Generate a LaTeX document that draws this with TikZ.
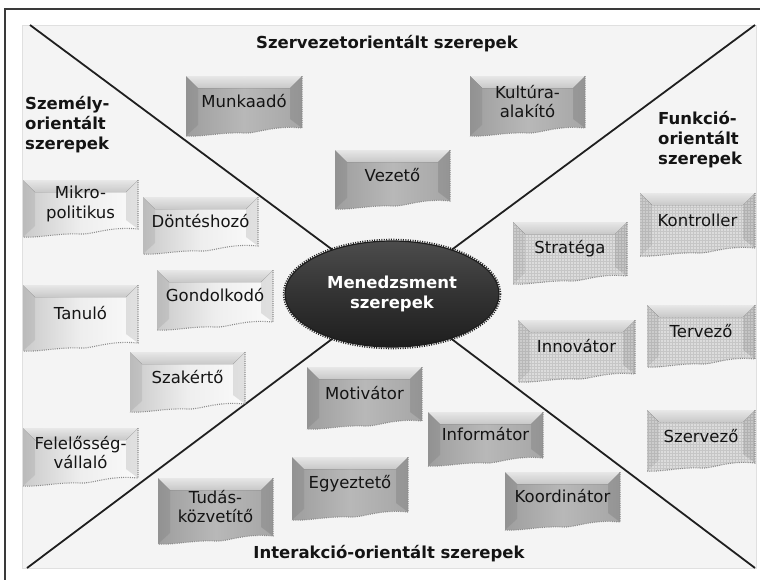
\documentclass[tikz,border=0pt]{standalone}
\usepackage{fontspec}
\setmainfont{DejaVu Sans}
\usetikzlibrary{shapes.geometric,patterns}

\definecolor{framec}{HTML}{3A3A3A}
\definecolor{panelc}{HTML}{F4F4F4}
\definecolor{paneledge}{HTML}{E0E0E0}
\definecolor{textc}{HTML}{141414}
\definecolor{gboxL}{HTML}{9E9E9E}
\definecolor{gboxM}{HTML}{B8B8B8}
\definecolor{gboxR}{HTML}{A6A6A6}
\definecolor{lboxL}{HTML}{CACACA}
\definecolor{lboxM}{HTML}{EEEEEE}
\definecolor{lboxR}{HTML}{FAFAFA}
\definecolor{fboxF}{HTML}{DCDCDC}
\definecolor{fboxG}{HTML}{C6C6C6}
\definecolor{bevelB}{HTML}{DCDCDC}
\definecolor{ellT}{HTML}{4C4C4C}
\definecolor{ellM}{HTML}{333333}
\definecolor{ellB}{HTML}{1E1E1E}

\tikzset{
  gbox/.style={left color=gboxL, right color=gboxR, middle color=gboxM},
  lbox/.style={left color=lboxL, right color=lboxR, middle color=lboxM},
  fbox/.style={fill=fboxF, postaction={pattern=grid, pattern color=fboxG}},
  bevel/.style={top color=white, bottom color=bevelB, opacity=0.9},
  tornedge/.style={draw=black!45, line width=1.1pt, dash pattern=on 1pt off 1.2pt},
  roletext/.style={font=\fontsize{16.5}{19.5}\selectfont, text=textc, align=center, inner sep=0pt},
  heading/.style={font=\bfseries\fontsize{16.5}{20}\selectfont, text=textc, inner sep=0pt},
  divider/.style={line width=1.8pt, draw=black!88},
}

% role box: #1 fill style, #2 node name, #3 x1, #4 y1, #5 x2, #6 y2 (lowest point of the torn bottom), #7 label
\newcommand\rolebox[7]{%
  \path[#1] (#3,#4) -- (#5,#4) -- (#5,{#6-9})
    .. controls ({#5-0.25*(#5-#3)},{#6-12}) and ({#5-0.4*(#5-#3)},{#6-3}) .. ({0.5*(#3+#5)},{#6-4})
    .. controls ({#3+0.3*(#5-#3)},{#6-5}) and ({#3+0.15*(#5-#3)},{#6}) .. (#3,{#6-1}) -- cycle;
  \fill[black,opacity=0.07] (#3,#4) -- ({#3+12},{#4+12}) -- ({#3+12},{#6-12}) -- (#3,{#6-1}) -- cycle;
  \fill[black,opacity=0.10] (#5,#4) -- ({#5-12},{#4+12}) -- ({#5-12},{#6-18}) -- (#5,{#6-9}) -- cycle;
  \fill[bevel] (#3,#4) -- (#5,#4) -- ({#5-12},{#4+12}) -- ({#3+12},{#4+12}) -- cycle;
  \draw[tornedge] (#5,#4) -- (#5,{#6-9})
    .. controls ({#5-0.25*(#5-#3)},{#6-12}) and ({#5-0.4*(#5-#3)},{#6-3}) .. ({0.5*(#3+#5)},{#6-4})
    .. controls ({#3+0.3*(#5-#3)},{#6-5}) and ({#3+0.15*(#5-#3)},{#6}) .. (#3,{#6-1});
  \node[roletext] (#2) at ({0.5*(#3+#5)},{0.5*(#4+#6)-5}) {#7};
}

\begin{document}
\begin{tikzpicture}[x=1pt, y=-1pt]
\useasboundingbox (0,0) rectangle (760,579);
\fill[white] (0,0) rectangle (760,579);

% outer frame and inner panel
\draw[framec, line width=1.6pt] (5,581) -- (5,9) -- (762,9);
\fill[panelc, draw=paneledge, line width=0.6pt] (22,25) rectangle (756,568);

% the four dividing diagonals meet behind the central ellipse
\coordinate (tl) at (30,25);
\coordinate (tr) at (755,25);
\coordinate (bl) at (27,568);
\coordinate (br) at (755,568);

% central ellipse with a grainy dark rim
\draw[ellB, line width=1.6pt, dash pattern=on 1pt off 1.4pt] (392,294) ellipse [x radius=108.5, y radius=54.5];
\node[ellipse, minimum width=214pt, minimum height=106pt, inner sep=0pt,
      draw=ellB, line width=1.2pt,
      top color=ellT, bottom color=ellB, middle color=ellM,
      text=white, font=\bfseries\fontsize{16.5}{20}\selectfont, align=center]
  (ell) at (392,294) {Menedzsment\\szerepek};

\draw[divider] (tl) -- (ell);
\draw[divider] (tr) -- (ell);
\draw[divider] (bl) -- (ell);
\draw[divider] (br) -- (ell);

% organisation-oriented roles
\rolebox{gbox}{munkaado}{186}{76}{302}{137}{Munkaadó}
\rolebox{gbox}{kultura}{470}{76}{585}{137}{Kultúra-\\alakító}
\rolebox{gbox}{vezeto}{335}{150}{450}{210}{Vezető}

% person-oriented roles
\rolebox{lbox}{mikro}{23}{180}{138}{238}{Mikro-\\politikus}
\rolebox{lbox}{donteshozo}{143}{197}{258}{255}{Döntéshozó}
\rolebox{lbox}{gondolkodo}{157}{270}{273}{331}{Gondolkodó}
\rolebox{lbox}{tanulo}{23}{285}{138}{352}{Tanuló}
\rolebox{lbox}{szakerto}{130}{352}{245}{413}{Szakértő}
\rolebox{lbox}{felelosseg}{23}{428}{138}{487}{Felelősség-\\vállaló}

% function-oriented roles
\rolebox{fbox}{stratega}{513}{222}{627}{285}{Stratéga}
\rolebox{fbox}{kontroller}{640}{193}{755}{257}{Kontroller}
\rolebox{fbox}{innovator}{518}{320}{635}{383}{Innovátor}
\rolebox{fbox}{tervezo}{647}{305}{755}{368}{Tervező}
\rolebox{fbox}{szervezo}{647}{410}{755}{472}{Szervező}

% interaction-oriented roles
\rolebox{gbox}{motivator}{307}{367}{422}{430}{Motivátor}
\rolebox{gbox}{informator}{428}{412}{543}{467}{Informátor}
\rolebox{gbox}{egyezteto}{292}{457}{408}{521}{Egyeztető}
\rolebox{gbox}{koordinator}{505}{472}{620}{531}{Koordinátor}
\rolebox{gbox}{tudas}{158}{478}{273}{545}{Tudás-\\közvetítő}

% quadrant headings
\node[heading, anchor=base] (hszerv) at (387,48) {Szervezetorientált szerepek};
\node[heading, anchor=base] (hinter) at (389,558) {Interakció-orientált szerepek};
\node[heading, anchor=north west, align=left] (hszemely) at (25,96) {Személy-\\orientált\\szerepek};
\node[heading, anchor=north west, align=left] (hfunkcio) at (658,111) {Funkció-\\orientált\\szerepek};
\end{tikzpicture}
\end{document}
